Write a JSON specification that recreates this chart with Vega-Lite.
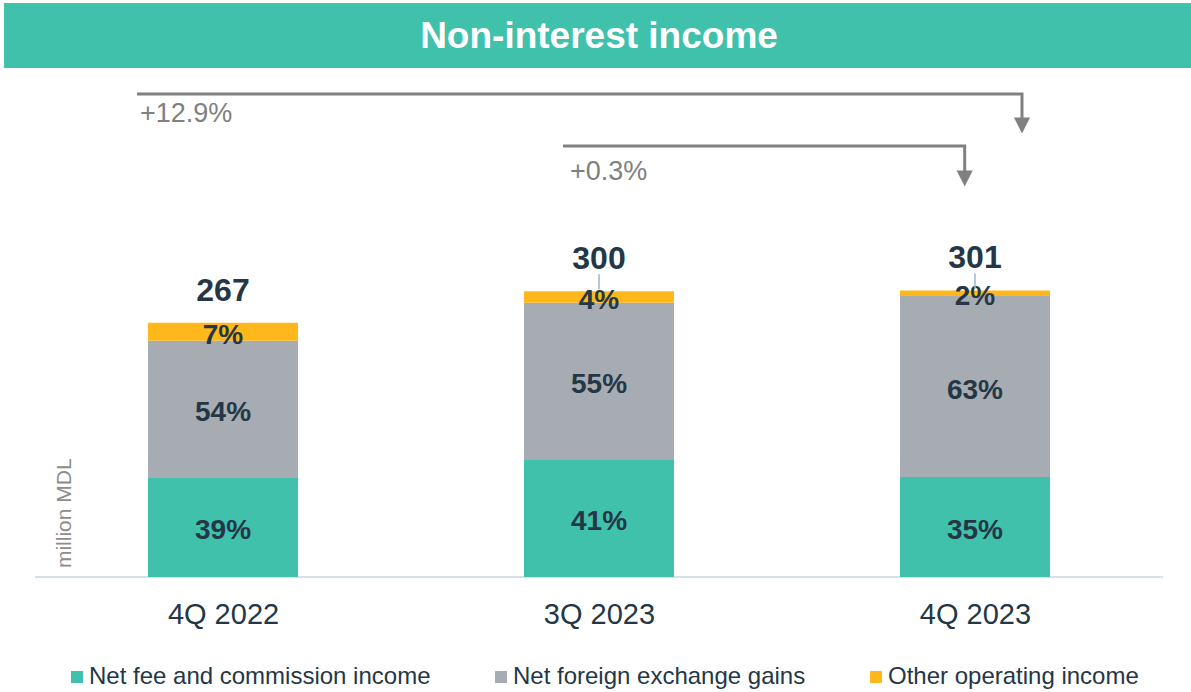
{
  "$schema": "https://vega.github.io/schema/vega-lite/v6.json",
  "width": 1191,
  "height": 577,
  "autosize": {"type": "none"},
  "padding": {"left": 0, "top": 0, "right": 0, "bottom": 115},
  "background": "white",
  "config": {"view": {"stroke": null}, "font": "Liberation Sans"},
  "datasets": {
    "income": [
      {"period": "4Q 2022", "series": "Net fee and commission income", "value": 104, "share": 0.39},
      {"period": "4Q 2022", "series": "Net foreign exchange gains", "value": 144, "share": 0.54},
      {"period": "4Q 2022", "series": "Other operating income", "value": 19, "share": 0.07},
      {"period": "3Q 2023", "series": "Net fee and commission income", "value": 123, "share": 0.41},
      {"period": "3Q 2023", "series": "Net foreign exchange gains", "value": 165, "share": 0.55},
      {"period": "3Q 2023", "series": "Other operating income", "value": 12, "share": 0.04},
      {"period": "4Q 2023", "series": "Net fee and commission income", "value": 105, "share": 0.35},
      {"period": "4Q 2023", "series": "Net foreign exchange gains", "value": 190, "share": 0.63},
      {"period": "4Q 2023", "series": "Other operating income", "value": 6, "share": 0.02}
    ],
    "brackets": [
      {"bracket": "yoy", "step": 1, "px": -0.2287, "py": 507.3},
      {"bracket": "yoy", "step": 2, "px": 2.125, "py": 507.3},
      {"bracket": "yoy", "step": 3, "px": 2.125, "py": 481},
      {"bracket": "qoq", "step": 1, "px": 0.9043, "py": 452.7},
      {"bracket": "qoq", "step": 2, "px": 1.9726, "py": 452.7},
      {"bracket": "qoq", "step": 3, "px": 1.9726, "py": 426}
    ],
    "arrowheads": [
      {"bracket": "yoy", "px": 2.125, "py": 474.2},
      {"bracket": "qoq", "px": 1.9726, "py": 418.5}
    ],
    "changes": [
      {"label": "+12.9%", "px": -0.2207, "py": 478.2},
      {"label": "+0.3%", "px": 0.9229, "py": 417.0}
    ],
    "frame": [
      {"part": "banner", "px": -0.5824, "px2": 2.5745, "py": 534.6, "py2": 602.8, "text": "Non-interest income", "tx": 1.0, "ty": 555.3},
      {"part": "baseline", "px": -0.5, "px2": 2.5, "py": 0, "py2": 0, "text": "million MDL", "tx": -0.4202, "ty": 9.4}
    ]
  },
  "layer": [
    {
      "data": {"name": "frame"},
      "transform": [{"filter": "datum.part == 'banner'"}],
      "mark": {"type": "rect", "color": "#40C1AC"},
      "encoding": {
        "x": {"field": "px", "type": "quantitative", "scale": {"domain": [-0.5931, 2.5745], "nice": false, "zero": false, "padding": 0}, "axis": {"values": [0, 1, 2], "labelExpr": "['4Q 2022','3Q 2023','4Q 2023'][datum.value]", "title": null, "grid": false, "ticks": false, "tickSize": 0, "domain": false, "labelFontSize": 29, "labelColor": "#253746", "labelPadding": 23, "labelFont": "Liberation Sans"}},
        "x2": {"field": "px2"},
        "y": {"field": "py", "type": "quantitative", "scale": {"domain": [0, 606], "nice": false, "zero": false, "padding": 0}, "axis": null},
        "y2": {"field": "py2"}
      }
    },
    {
      "data": {"name": "frame"},
      "transform": [{"filter": "datum.part == 'banner'"}],
      "mark": {"type": "text", "color": "white", "fontSize": 37, "fontWeight": "bold", "align": "center", "baseline": "alphabetic"},
      "encoding": {
        "x": {"field": "tx", "type": "quantitative"},
        "y": {"field": "ty", "type": "quantitative"},
        "text": {"field": "text"}
      }
    },
    {
      "data": {"name": "frame"},
      "transform": [{"filter": "datum.part == 'baseline'"}],
      "mark": {"type": "rule", "color": "#D5E1EA", "strokeWidth": 2},
      "encoding": {
        "x": {"field": "px", "type": "quantitative"},
        "x2": {"field": "px2"},
        "y": {"field": "py", "type": "quantitative"}
      }
    },
    {
      "data": {"name": "frame"},
      "transform": [{"filter": "datum.part == 'baseline'"}],
      "mark": {"type": "text", "color": "#8C8C8C", "fontSize": 21, "angle": 270, "align": "left", "baseline": "middle"},
      "encoding": {
        "x": {"field": "tx", "type": "quantitative"},
        "y": {"field": "ty", "type": "quantitative"},
        "text": {"field": "text"}
      }
    },
    {
      "data": {"name": "income"},
      "transform": [
        {"calculate": "indexof(['4Q 2022','3Q 2023','4Q 2023'], datum.period)", "as": "pos"},
        {"calculate": "indexof(['Net fee and commission income','Net foreign exchange gains','Other operating income'], datum.series)", "as": "rank"}
      ],
      "mark": {"type": "bar", "size": 150},
      "encoding": {
        "x": {"field": "pos", "type": "quantitative"},
        "y": {"field": "value", "type": "quantitative", "stack": "zero"},
        "order": {"field": "rank", "type": "quantitative", "sort": "ascending"},
        "color": {
          "field": "series", "type": "nominal",
          "scale": {"domain": ["Net fee and commission income", "Net foreign exchange gains", "Other operating income"], "range": ["#40C1AC", "#A7ACB2", "#FFB81C"]},
          "legend": {"title": null, "orient": "none", "legendX": 65, "legendY": 665, "direction": "horizontal", "symbolType": "square", "symbolSize": 144, "symbolStrokeWidth": 0, "symbolOpacity": 1, "labelFontSize": 24, "labelColor": "#253746", "labelFont": "Liberation Sans", "labelOffset": 0, "columnPadding": 58, "padding": 0, "labelLimit": 0}
        }
      }
    },
    {
      "data": {"name": "income"},
      "transform": [
        {"calculate": "indexof(['4Q 2022','3Q 2023','4Q 2023'], datum.period)", "as": "pos"},
        {"stack": "value", "groupby": ["period"], "sort": [{"field": "series", "order": "ascending"}], "as": ["v0", "v1"]},
        {"calculate": "(datum.v0 + datum.v1) / 2", "as": "mid"}
      ],
      "mark": {"type": "text", "color": "#253746", "fontSize": 28, "fontWeight": "bold", "align": "center", "baseline": "alphabetic", "dy": 12},
      "encoding": {
        "x": {"field": "pos", "type": "quantitative"},
        "y": {"field": "mid", "type": "quantitative"},
        "text": {"field": "share", "type": "quantitative", "format": ".0%"}
      }
    },
    {
      "data": {"name": "income"},
      "transform": [
        {"aggregate": [{"op": "sum", "field": "value", "as": "total"}], "groupby": ["period"]},
        {"calculate": "indexof(['4Q 2022','3Q 2023','4Q 2023'], datum.period)", "as": "pos"}
      ],
      "mark": {"type": "text", "color": "#253746", "fontSize": 32, "fontWeight": "bold", "align": "center", "baseline": "alphabetic", "dy": -22},
      "encoding": {
        "x": {"field": "pos", "type": "quantitative"},
        "y": {"field": "total", "type": "quantitative"},
        "text": {"field": "total", "type": "quantitative"}
      }
    },
    {
      "data": {"name": "income"},
      "transform": [
        {"aggregate": [{"op": "sum", "field": "value", "as": "total"}], "groupby": ["period"]},
        {"filter": "datum.period != '4Q 2022'"},
        {"calculate": "indexof(['4Q 2022','3Q 2023','4Q 2023'], datum.period)", "as": "pos"}
      ],
      "mark": {"type": "rule", "color": "#9FB6CC", "strokeWidth": 1.5, "yOffset": -2, "y2Offset": -17},
      "encoding": {
        "x": {"field": "pos", "type": "quantitative"},
        "y": {"field": "total", "type": "quantitative"},
        "y2": {"field": "total"}
      }
    },
    {
      "data": {"name": "brackets"},
      "mark": {"type": "line", "color": "#808080", "strokeWidth": 3, "interpolate": "linear"},
      "encoding": {
        "x": {"field": "px", "type": "quantitative"},
        "y": {"field": "py", "type": "quantitative"},
        "detail": {"field": "bracket"},
        "order": {"field": "step", "type": "quantitative"}
      }
    },
    {
      "data": {"name": "arrowheads"},
      "mark": {"type": "point", "shape": "M-1,-1L1,-1L0,1Z", "filled": true, "color": "#808080", "opacity": 1, "size": 260, "strokeWidth": 0},
      "encoding": {
        "x": {"field": "px", "type": "quantitative"},
        "y": {"field": "py", "type": "quantitative"}
      }
    },
    {
      "data": {"name": "changes"},
      "mark": {"type": "text", "color": "#808080", "fontSize": 27, "align": "left", "baseline": "alphabetic"},
      "encoding": {
        "x": {"field": "px", "type": "quantitative"},
        "y": {"field": "py", "type": "quantitative"},
        "text": {"field": "label"}
      }
    }
  ]
}
